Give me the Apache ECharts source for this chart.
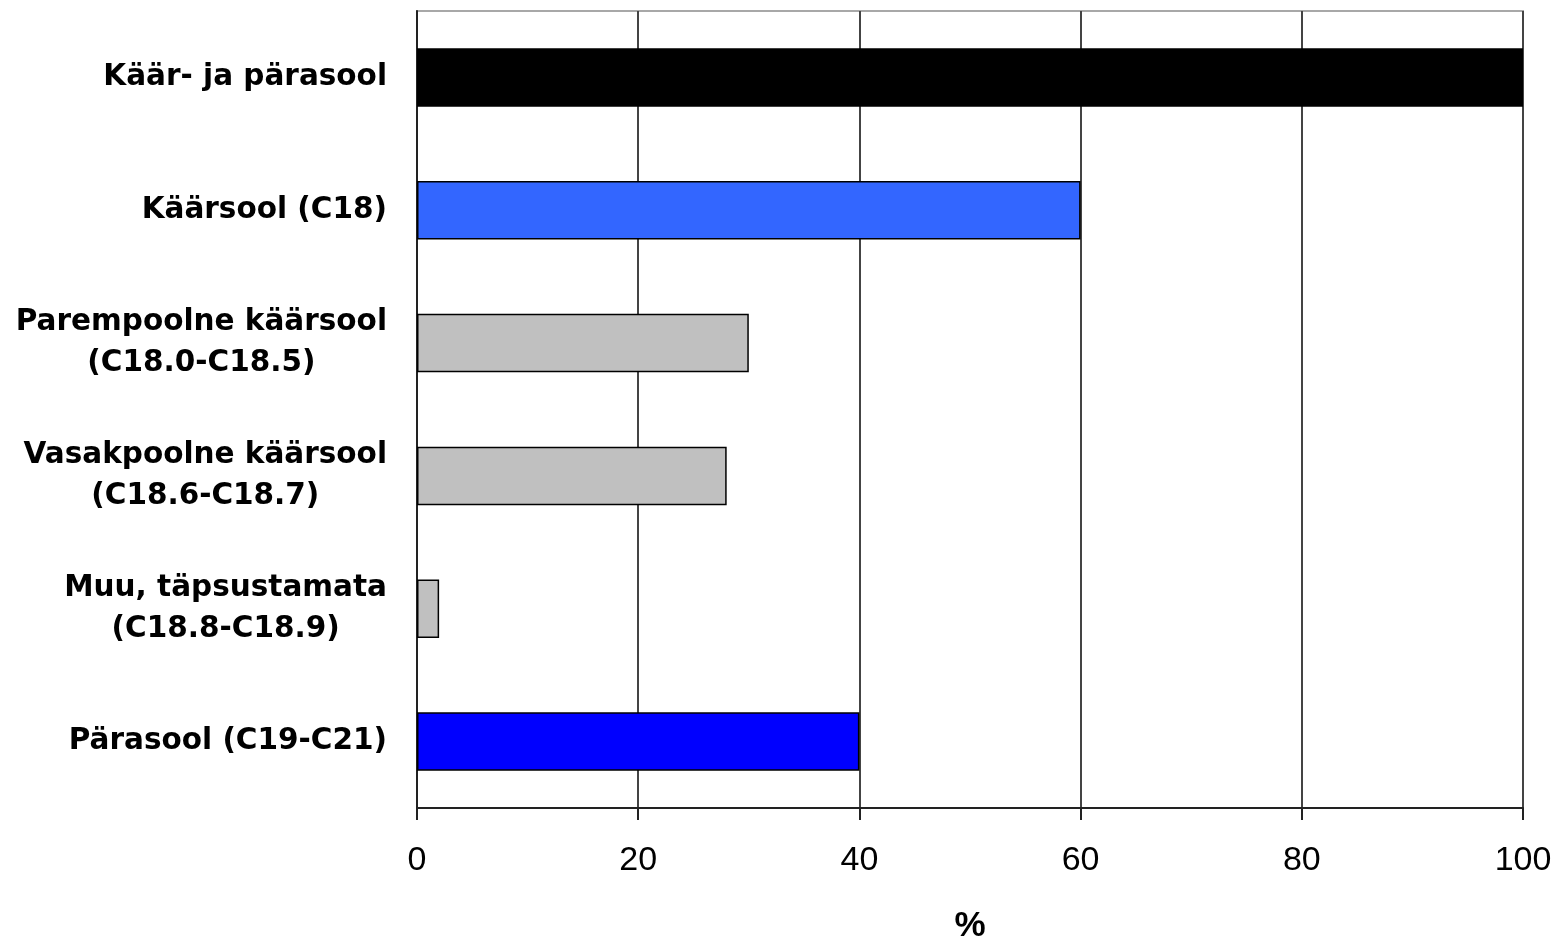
<!DOCTYPE html>
<html>
<head>
<meta charset="utf-8">
<script src="https://cdn.jsdelivr.net/npm/echarts@6/dist/echarts.min.js"></script>
<style>
  html, body { margin: 0; padding: 0; background: #ffffff; }
  #chart { width: 1557px; height: 944px; }
</style>
</head>
<body>
<div id="chart"></div>
<script>
// Paikmed (kategooriad ülalt alla)
const categories = [
  'Käär- ja pärasool',
  'Käärsool (C18)',
  'Parempoolne käärsool\n(C18.0-C18.5)',
  'Vasakpoolne käärsool\n(C18.6-C18.7)',
  'Muu, täpsustamata\n(C18.8-C18.9)',
  'Pärasool (C19-C21)'
];
// Osakaal, %
const shares = [100, 60, 30, 28, 2, 40];
// X-telje jaotis
const axisTicks = [0, 20, 40, 60, 80, 100];
const axisName = '%';

// Tulpade täitevärvid
const barColors = ['#000000', '#3366FF', '#C0C0C0', '#C0C0C0', '#C0C0C0', '#0000FF'];

const chart = echarts.init(document.getElementById('chart'), null, { renderer: 'canvas' });

chart.setOption({
  animation: false,
  backgroundColor: '#ffffff',
  grid: {
    left: 417, right: 34, top: 11, bottom: 136,
    outerBoundsMode: 'none',
    containLabel: false,
    show: true, borderColor: '#a8a8a8', borderWidth: 2, backgroundColor: 'transparent'
  },
  xAxis: {
    type: 'value',
    min: axisTicks[0],
    max: axisTicks[axisTicks.length - 1],
    interval: axisTicks[1] - axisTicks[0],
    name: axisName,
    nameLocation: 'middle',
    nameGap: 101,
    nameTextStyle: { fontFamily: 'Liberation Sans', fontWeight: 'bold', fontSize: 35, color: '#000' },
    axisLine: { show: true, lineStyle: { color: '#222', width: 2 } },
    axisTick: { show: true, length: 12, lineStyle: { color: '#222', width: 2 } },
    axisLabel: { margin: 36, fontFamily: 'Liberation Sans', fontSize: 34, color: '#000' },
    splitLine: { show: true, lineStyle: { color: '#444', width: 2 } }
  },
  yAxis: {
    type: 'category',
    inverse: true,
    data: categories,
    axisLine: { show: true, lineStyle: { color: '#222', width: 2 } },
    axisTick: { show: false },
    splitLine: { show: false },
    axisLabel: {
      margin: 30,
      align: 'right',
      formatter: (v) => v.split('\n').map(s => '{c|' + s + '}').join('\n'),
      rich: {
        c: {
          align: 'center',
          fontFamily: 'DejaVu Sans',
          fontWeight: 'bold',
          fontSize: 29.5,
          lineHeight: 41,
          color: '#000'
        }
      }
    }
  },
  series: [{
    type: 'bar',
    data: shares.map((v, i) => ({ value: v, itemStyle: { color: barColors[i] } })),
    barCategoryGap: '56%',
    itemStyle: { borderColor: '#000', borderWidth: 1.5 }
  }]
});
</script>
</body>
</html>
